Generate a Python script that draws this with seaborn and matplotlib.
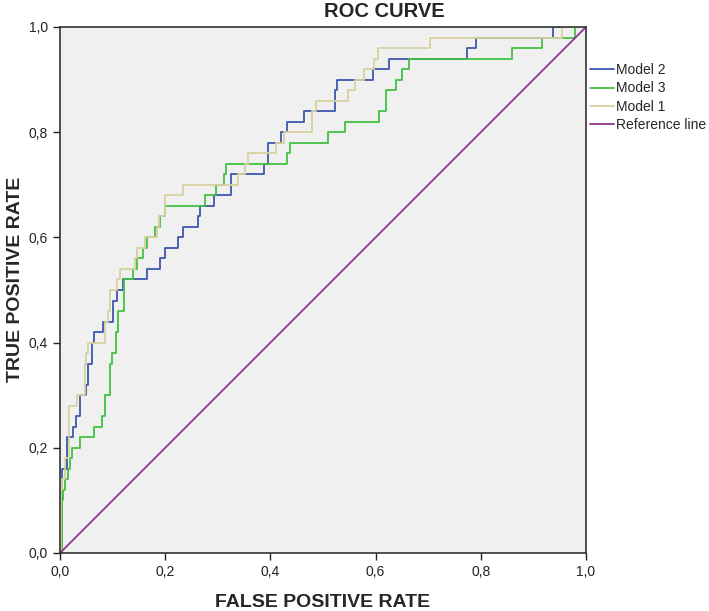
import seaborn as sns
import matplotlib.pyplot as plt
import pandas as pd

# ROC steps: at each fpr value the curve jumps up to the tpr value
fpr_model2 = [0.0, 0.003, 0.013, 0.025, 0.030, 0.038, 0.050, 0.053, 0.060, 0.065, 0.082, 0.101, 0.108, 0.120,
              0.165, 0.190, 0.200, 0.225, 0.234, 0.263, 0.267, 0.293, 0.325, 0.387, 0.396, 0.421, 0.431, 0.464,
              0.523, 0.526, 0.596, 0.625, 0.773, 0.790, 0.938, 1.0]
tpr_model2 = [0.0, 0.16, 0.22, 0.24, 0.26, 0.30, 0.32, 0.36, 0.40, 0.42, 0.44, 0.48, 0.50, 0.52,
              0.54, 0.56, 0.58, 0.60, 0.62, 0.64, 0.66, 0.68, 0.72, 0.74, 0.78, 0.80, 0.82, 0.84,
              0.88, 0.90, 0.92, 0.94, 0.96, 0.98, 1.0, 1.0]

fpr_model3 = [0.0, 0.004, 0.006, 0.010, 0.016, 0.019, 0.023, 0.038, 0.065, 0.079, 0.086, 0.095, 0.099, 0.106,
              0.111, 0.122, 0.139, 0.146, 0.157, 0.165, 0.180, 0.190, 0.200, 0.276, 0.296, 0.312, 0.316, 0.431,
              0.437, 0.509, 0.542, 0.606, 0.620, 0.639, 0.651, 0.664, 0.860, 0.916, 0.980, 1.0]
tpr_model3 = [0.0, 0.10, 0.12, 0.14, 0.16, 0.18, 0.20, 0.22, 0.24, 0.26, 0.30, 0.36, 0.38, 0.42,
              0.46, 0.52, 0.54, 0.56, 0.58, 0.60, 0.62, 0.64, 0.66, 0.68, 0.70, 0.72, 0.74, 0.76,
              0.78, 0.80, 0.82, 0.84, 0.88, 0.90, 0.92, 0.94, 0.96, 0.98, 1.0, 1.0]

fpr_model1 = [0.0, 0.001, 0.004, 0.010, 0.018, 0.032, 0.047, 0.049, 0.054, 0.086, 0.091, 0.095, 0.108, 0.114,
              0.143, 0.147, 0.162, 0.184, 0.188, 0.200, 0.234, 0.338, 0.352, 0.358, 0.411, 0.425, 0.480, 0.487,
              0.548, 0.561, 0.577, 0.597, 0.605, 0.703, 0.954, 1.0]
tpr_model1 = [0.0, 0.12, 0.14, 0.18, 0.28, 0.30, 0.36, 0.38, 0.40, 0.44, 0.46, 0.50, 0.52, 0.54,
              0.56, 0.58, 0.60, 0.62, 0.64, 0.68, 0.70, 0.72, 0.74, 0.76, 0.78, 0.80, 0.84, 0.86,
              0.88, 0.90, 0.92, 0.94, 0.96, 0.98, 1.0, 1.0]

ref_x = [0.0, 1.0]
ref_y = [0.0, 1.0]

cores = {'Model 2': '#3e58b0', 'Model 3': '#41c141', 'Model 1': '#d6d19e', 'Reference line': '#8e3490'}
tick_vals = [0.0, 0.2, 0.4, 0.6, 0.8, 1.0]
tick_labels = ['0,0', '0,2', '0,4', '0,6', '0,8', '1,0']


def degraus(xs, ys):
    # vertices of the staircase: horizontal then vertical
    px, py = [xs[0]], [ys[0]]
    for i in range(1, len(xs)):
        px += [xs[i], xs[i]]
        py += [ys[i - 1], ys[i]]
    return px, py


linhas = []
for nome, xs, ys in [('Model 2', fpr_model2, tpr_model2),
                     ('Model 3', fpr_model3, tpr_model3),
                     ('Model 1', fpr_model1, tpr_model1),
                     ('Reference line', ref_x, ref_y)]:
    px, py = degraus(xs, ys) if nome != 'Reference line' else (xs, ys)
    linhas.append(pd.DataFrame({'fpr': px, 'tpr': py, 'modelo': nome}))
df = pd.concat(linhas, ignore_index=True)

sns.set_style('ticks')
plt.rcParams['font.family'] = ['Liberation Sans', 'DejaVu Sans']

fig = plt.figure(figsize=(7.09, 6.11), dpi=100)
ax = fig.add_axes([60 / 709, 58 / 611, 526 / 709, 526 / 611])
ax.set_facecolor('#f0f0f0')

for nome in ['Model 2', 'Model 3', 'Model 1', 'Reference line']:
    sns.lineplot(data=df[df['modelo'] == nome], x='fpr', y='tpr', sort=False, estimator=None,
                 color=cores[nome], linewidth=1.3, label=nome, ax=ax)

ax.set_xlim(0, 1)
ax.set_ylim(0, 1)
ax.set_xticks(tick_vals)
ax.set_xticklabels(tick_labels)
ax.set_yticks(tick_vals)
ax.set_yticklabels(tick_labels)
ax.tick_params(direction='out', length=5, width=1, labelsize=10, colors='#222222')
for s in ax.spines.values():
    s.set_color('#333333')
    s.set_linewidth(1.2)

ax.set_title('ROC CURVE', fontsize=14.5, fontweight='bold', x=0.616, pad=7)
ax.set_xlabel('FALSE POSITIVE RATE', fontsize=14, fontweight='bold', labelpad=11)
ax.set_ylabel('TRUE POSITIVE RATE', fontsize=14, fontweight='bold')
ax.yaxis.set_label_coords(-0.068, 0.52)

ax.legend(loc='upper left', bbox_to_anchor=(1.0076, 0.931), frameon=False, fontsize=10,
          handlelength=1.7, handletextpad=0.2, labelspacing=0.3, borderaxespad=0, borderpad=0)

plt.savefig('out.png', dpi=100)
